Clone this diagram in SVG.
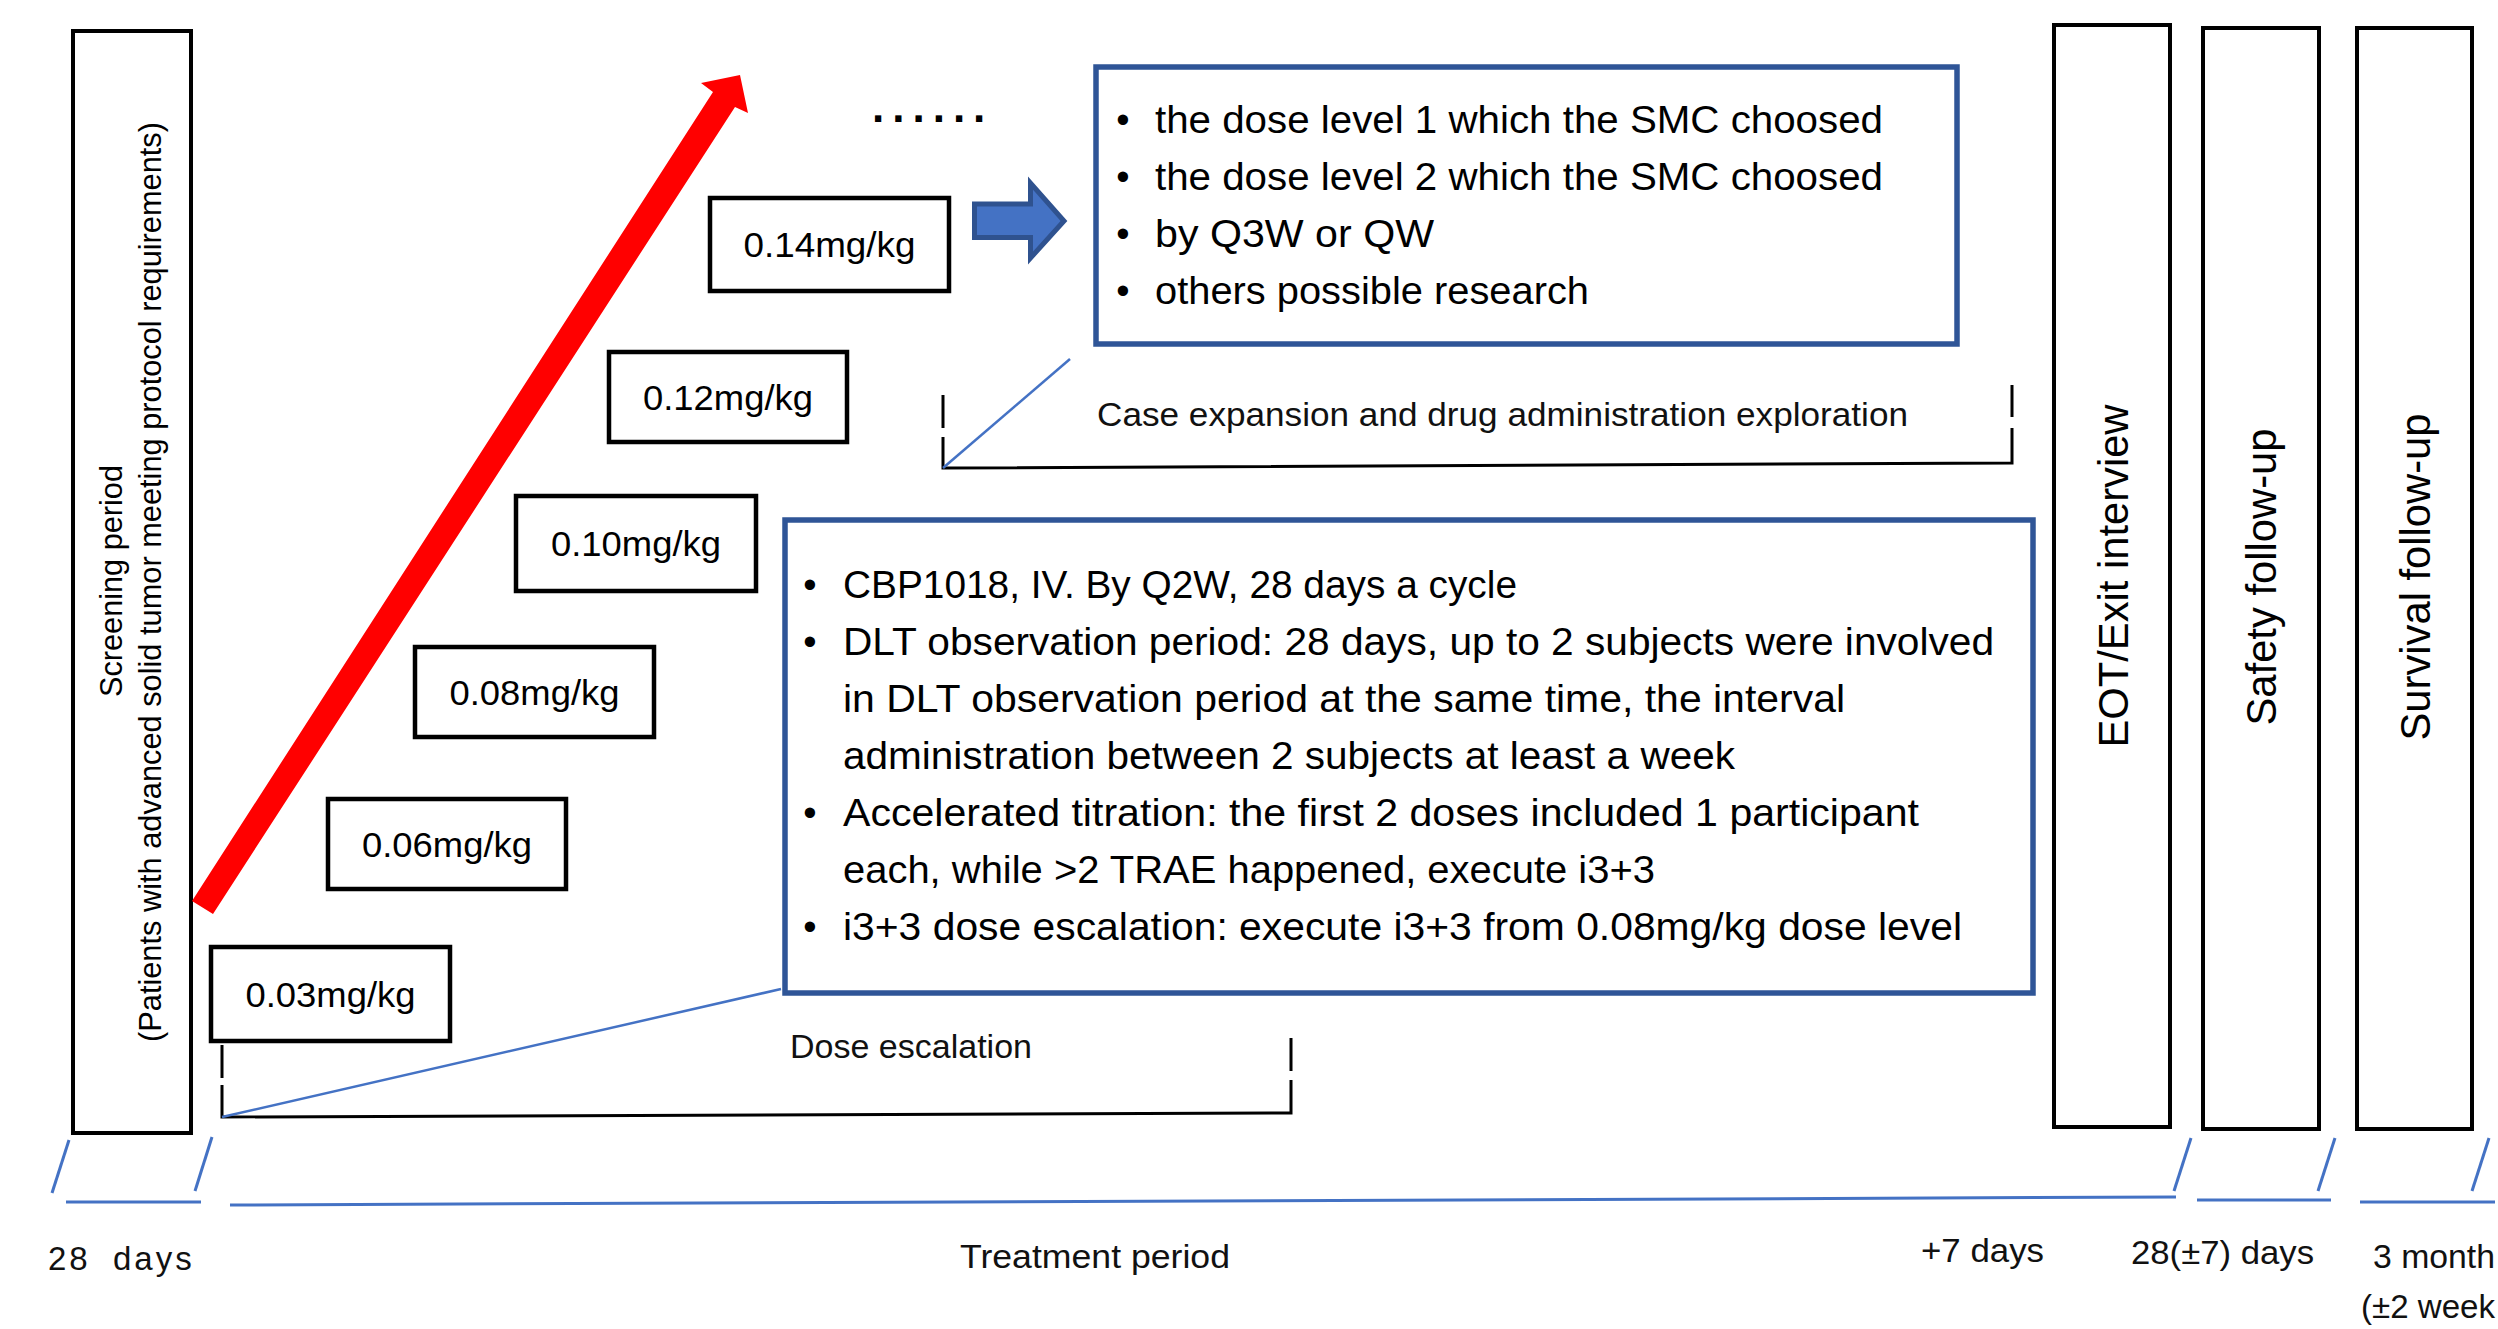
<svg xmlns="http://www.w3.org/2000/svg" width="2498" height="1329" viewBox="0 0 2498 1329">
<style>
.box{fill:#fff;stroke:#000;stroke-width:4}
.dose{fill:#fff;stroke:#000;stroke-width:4.5}
.bbox{fill:#fff;stroke:#2F5597;stroke-width:5.5}
text{font-family:"Liberation Sans",Arial,sans-serif;fill:#000}
.dt{font-size:35px;text-anchor:middle}
.bt{font-size:38px}
.bu{font-size:38px;text-anchor:middle}
.vt{text-anchor:middle}
.lbl{font-size:33px;fill:#111}
.tl{stroke:#4472C4;stroke-width:3;fill:none}
.br{stroke:#000;stroke-width:3;fill:none}
.bl{stroke:#4472C4;stroke-width:2.5;fill:none}
</style>
<rect width="2498" height="1329" fill="#fff"/>

<g id="screening">
<rect class="box" x="73" y="31" width="118" height="1102"/>
<text class="vt" font-size="31" textLength="232" lengthAdjust="spacingAndGlyphs" transform="translate(122,581) rotate(-90)">Screening period</text>
<text class="vt" font-size="31" textLength="920" lengthAdjust="spacingAndGlyphs" transform="translate(161,582) rotate(-90)">(Patients with advanced solid tumor meeting protocol requirements)</text>
</g>

<g id="dose-003"><rect class="dose" x="211" y="947" width="239" height="94"/><text class="dt" x="330.5" y="1006.5" textLength="170" lengthAdjust="spacingAndGlyphs">0.03mg/kg</text></g>
<g id="dose-006"><rect class="dose" x="328" y="799" width="238" height="90"/><text class="dt" x="447" y="856.5" textLength="170" lengthAdjust="spacingAndGlyphs">0.06mg/kg</text></g>
<g id="dose-008"><rect class="dose" x="415" y="647" width="239" height="90"/><text class="dt" x="534.5" y="704.5" textLength="170" lengthAdjust="spacingAndGlyphs">0.08mg/kg</text></g>
<g id="dose-010"><rect class="dose" x="516" y="496" width="240" height="95"/><text class="dt" x="636" y="556" textLength="170" lengthAdjust="spacingAndGlyphs">0.10mg/kg</text></g>
<g id="dose-012"><rect class="dose" x="609" y="352" width="238" height="90"/><text class="dt" x="728" y="409.5" textLength="170" lengthAdjust="spacingAndGlyphs">0.12mg/kg</text></g>
<g id="dose-014"><rect class="dose" x="710" y="198" width="239" height="93"/><text class="dt" x="829.5" y="257" textLength="172" lengthAdjust="spacingAndGlyphs">0.14mg/kg</text></g>

<g id="dots"><text x="872" y="122" font-size="44" font-weight="bold" letter-spacing="8">......</text></g>

<g id="expansion-box">
<rect class="bbox" x="1096" y="67" width="861" height="277"/>
<text class="bu" x="1123" y="133">•</text>
<text class="bt" x="1155" y="133" textLength="728" lengthAdjust="spacingAndGlyphs">the dose level 1 which the SMC choosed</text>
<text class="bu" x="1123" y="190">•</text>
<text class="bt" x="1155" y="190" textLength="728" lengthAdjust="spacingAndGlyphs">the dose level 2 which the SMC choosed</text>
<text class="bu" x="1123" y="247">•</text>
<text class="bt" x="1155" y="247" textLength="279" lengthAdjust="spacingAndGlyphs">by Q3W or QW</text>
<text class="bu" x="1123" y="304">•</text>
<text class="bt" x="1155" y="304" textLength="434" lengthAdjust="spacingAndGlyphs">others possible research</text>
</g>

<g id="escalation-box">
<rect class="bbox" x="785" y="520" width="1248" height="473"/>
<text class="bu" x="810" y="598">•</text>
<text class="bt" x="843" y="598" textLength="674" lengthAdjust="spacingAndGlyphs">CBP1018, IV. By Q2W, 28 days a cycle</text>
<text class="bu" x="810" y="655">•</text>
<text class="bt" x="843" y="655" textLength="1151" lengthAdjust="spacingAndGlyphs">DLT observation period: 28 days, up to 2 subjects were involved</text>
<text class="bt" x="843" y="712" textLength="1002" lengthAdjust="spacingAndGlyphs">in DLT observation period at the same time, the interval</text>
<text class="bt" x="843" y="769" textLength="892" lengthAdjust="spacingAndGlyphs">administration between 2 subjects at least a week</text>
<text class="bu" x="810" y="826">•</text>
<text class="bt" x="843" y="826" textLength="1076" lengthAdjust="spacingAndGlyphs">Accelerated titration: the first 2 doses included 1 participant</text>
<text class="bt" x="843" y="883" textLength="812" lengthAdjust="spacingAndGlyphs">each, while &gt;2 TRAE happened, execute i3+3</text>
<text class="bu" x="810" y="940">•</text>
<text class="bt" x="843" y="940" textLength="1119" lengthAdjust="spacingAndGlyphs">i3+3 dose escalation: execute i3+3 from 0.08mg/kg dose level</text>
</g>

<g id="eot">
<rect class="box" x="2054" y="25" width="116" height="1102"/>
<text class="vt" font-size="42" textLength="343" lengthAdjust="spacingAndGlyphs" transform="translate(2128,576) rotate(-90)">EOT/Exit interview</text>
</g>
<g id="safety">
<rect class="box" x="2203" y="28" width="116" height="1101"/>
<text class="vt" font-size="42" textLength="297" lengthAdjust="spacingAndGlyphs" transform="translate(2276,577) rotate(-90)">Safety follow-up</text>
</g>
<g id="survival">
<rect class="box" x="2357" y="28" width="115" height="1101"/>
<text class="vt" font-size="42" textLength="327" lengthAdjust="spacingAndGlyphs" transform="translate(2430,577) rotate(-90)">Survival follow-up</text>
</g>

<g id="labels">
<text class="lbl" x="1097" y="426" textLength="811" lengthAdjust="spacingAndGlyphs">Case expansion and drug administration exploration</text>
<text class="lbl" x="790" y="1058" textLength="242" lengthAdjust="spacingAndGlyphs">Dose escalation</text>
<text class="lbl" font-size="34" letter-spacing="3" x="48" y="1270">28 <tspan x="113">days</tspan></text>
<text class="lbl" font-size="34" x="960" y="1268" textLength="270" lengthAdjust="spacingAndGlyphs">Treatment period</text>
<text class="lbl" font-size="34" x="1921" y="1262" textLength="123" lengthAdjust="spacingAndGlyphs">+7 days</text>
<text class="lbl" font-size="34" x="2131" y="1264" textLength="183" lengthAdjust="spacingAndGlyphs">28(±7) days</text>
<text class="lbl" font-size="34" x="2373" y="1268" textLength="122" lengthAdjust="spacingAndGlyphs">3 month</text>
<text class="lbl" font-size="34" x="2361" y="1318" textLength="134" lengthAdjust="spacingAndGlyphs">(±2 week</text>
</g>

<g id="connectors">
<polygon fill="#FF0000" points="192,901 713,92 701,83 740,75 748,113 735,107 213,914"/>
<polygon fill="#4472C4" stroke="#2F528F" stroke-width="5" points="974.5,204 1030.5,204 1030.5,183 1064,221 1030.5,258 1030.5,237.5 974.5,237.5"/>
<path class="br" d="M943,395 V428 M943,437 V468 L2012,463 V428 M2012,417 V385"/>
<line class="bl" x1="943" y1="468" x2="1070" y2="359"/>
<path class="br" d="M222,1045 V1078 M222,1085 V1117 L1291,1113 V1080 M1291,1071 V1038"/>
<line class="bl" x1="222" y1="1117" x2="781" y2="989"/>
<line class="tl" x1="69" y1="1140" x2="52" y2="1193"/>
<line class="tl" x1="212" y1="1137" x2="195" y2="1191"/>
<line class="tl" x1="66" y1="1202" x2="201" y2="1202"/>
<line class="tl" x1="230" y1="1205" x2="2176" y2="1197"/>
<line class="tl" x1="2191" y1="1138" x2="2174" y2="1191"/>
<line class="tl" x1="2197" y1="1200" x2="2331" y2="1200"/>
<line class="tl" x1="2335" y1="1138" x2="2318" y2="1191"/>
<line class="tl" x1="2360" y1="1202" x2="2495" y2="1202"/>
<line class="tl" x1="2489" y1="1138" x2="2472" y2="1191"/>
</g>
</svg>
